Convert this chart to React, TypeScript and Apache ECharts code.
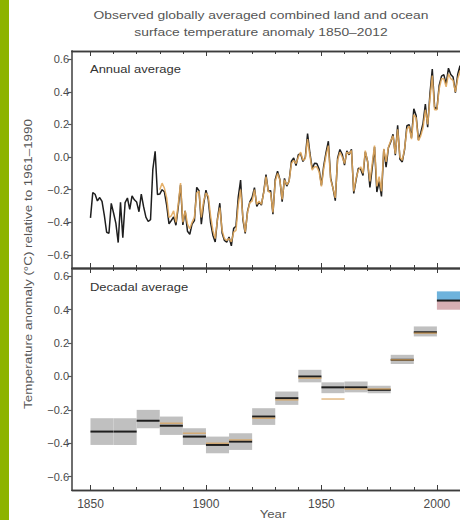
import { useEffect, useRef } from "react";
import * as echarts from "echarts";

// Annual global mean anomaly (°C, relative to 1961–1990), first record from 1850
const ANNUAL_START = 1850;
const annualBlack = [
  -0.373, -0.218, -0.228, -0.269, -0.248, -0.272, -0.358, -0.461, -0.467, -0.284,
  -0.343, -0.407, -0.524, -0.278, -0.494, -0.279, -0.251, -0.321, -0.238, -0.262,
  -0.276, -0.335, -0.227, -0.304, -0.368, -0.395, -0.384, -0.075, 0.035, -0.23,
  -0.227, -0.2, -0.213, -0.296, -0.409, -0.389, -0.367, -0.418, -0.307, -0.171,
  -0.416, -0.33, -0.455, -0.473, -0.41, -0.39, -0.186, -0.206, -0.412, -0.289,
  -0.203, -0.259, -0.402, -0.479, -0.52, -0.377, -0.283, -0.465, -0.511, -0.522,
  -0.49, -0.544, -0.437, -0.424, -0.244, -0.141, -0.383, -0.468, -0.333, -0.275,
  -0.247, -0.187, -0.302, -0.276, -0.294, -0.215, -0.108, -0.21, -0.206, -0.35,
  -0.137, -0.087, -0.137, -0.273, -0.131, -0.178, -0.147, -0.026, -0.006, -0.052,
  0.014, 0.02, -0.027, -0.004, 0.144, 0.025, -0.071, -0.038, -0.039, -0.074,
  -0.173, -0.052, 0.028, 0.097, -0.129, -0.19, -0.267, -0.007, 0.046, 0.017,
  -0.049, 0.038, 0.014, 0.048, -0.223, -0.14, -0.068, -0.074, -0.113, 0.032,
  -0.027, -0.186, -0.065, 0.062, -0.214, -0.149, -0.241, 0.047, -0.062, 0.057,
  0.092, 0.14, 0.011, 0.194, -0.014, -0.03, 0.045, 0.192, 0.198, 0.118,
  0.296, 0.254, 0.105, 0.148, 0.208, 0.325, 0.183, 0.39, 0.539, 0.306,
  0.294, 0.441, 0.496, 0.505, 0.447, 0.545, 0.506, 0.491, 0.395, 0.506,
  0.56, 0.425, 0.47,
];

// Second annual record, starting 1880
const ORANGE_START = 1880;
const annualOrange = [
  -0.2, -0.16, -0.19, -0.25, -0.37, -0.36, -0.33, -0.4, -0.29, -0.16,
  -0.4, -0.33, -0.41, -0.44, -0.4, -0.37, -0.22, -0.21, -0.37, -0.27,
  -0.22, -0.24, -0.36, -0.45, -0.5, -0.38, -0.31, -0.45, -0.5, -0.51,
  -0.5, -0.52, -0.46, -0.45, -0.29, -0.2, -0.37, -0.46, -0.34, -0.28,
  -0.27, -0.2, -0.29, -0.27, -0.29, -0.22, -0.12, -0.21, -0.22, -0.34,
  -0.15, -0.1, -0.14, -0.26, -0.14, -0.17, -0.15, -0.04, -0.02, -0.04,
  0.0, 0.03, -0.02, -0.01, 0.11, 0.01, -0.08, -0.06, -0.06, -0.09,
  -0.18, -0.07, 0.01, 0.07, -0.14, -0.19, -0.25, -0.02, 0.03, 0.0,
  -0.04, 0.03, 0.02, 0.04, -0.21, -0.13, -0.08, -0.06, -0.1, 0.04,
  -0.03, -0.15, -0.04, 0.07, -0.18, -0.12, -0.21, 0.05, -0.03, 0.06,
  0.1, 0.13, 0.02, 0.17, 0.0, -0.02, 0.05, 0.17, 0.19, 0.11,
  0.26, 0.24, 0.1, 0.13, 0.18, 0.29, 0.2, 0.36, 0.5, 0.29,
  0.29, 0.42, 0.48, 0.48, 0.43, 0.51, 0.48, 0.47, 0.4, 0.48,
  0.53, 0.42, 0.45,
];

// Decadal averages: start year, mean, uncertainty band
const decadeStart = [1850, 1860, 1870, 1880, 1890, 1900, 1910, 1920, 1930, 1940, 1950, 1960, 1970, 1980, 1990, 2000];
const decadeMean = [-0.33, -0.33, -0.265, -0.295, -0.36, -0.41, -0.39, -0.24, -0.13, 0.0, -0.065, -0.065, -0.08, 0.1, 0.265, 0.455];
const decadeLow = [-0.41, -0.41, -0.31, -0.35, -0.41, -0.46, -0.44, -0.29, -0.17, -0.035, -0.1, -0.095, -0.1, 0.075, 0.24, 0.4];
const decadeHigh = [-0.25, -0.25, -0.2, -0.24, -0.31, -0.36, -0.34, -0.19, -0.09, 0.04, -0.035, -0.03, -0.055, 0.13, 0.3, 0.51];
// Second record, decadal means (from 1880)
const decadeOrange = [null, null, null, -0.28, -0.34, -0.4, -0.38, -0.25, -0.14, -0.01, -0.135, -0.075, -0.075, 0.1, 0.26, null];

const yTicks = [-0.6, -0.4, -0.2, 0, 0.2, 0.4, 0.6];
const yearLabels = [1850, 1900, 1950, 2000];
const decadeTicks = [1850, 1860, 1870, 1880, 1890, 1900, 1910, 1920, 1930, 1940, 1950, 1960, 1970, 1980, 1990, 2000, 2010];

const X_MIN = 1842;
const X_MAX = 2010;
const Y_MIN = -0.68;
const Y_MAX = 0.65;
const FONT = "'Liberation Sans', Arial, sans-serif";
const FRAME = "#3c3c3c";
const TEXT = "#4a4a4a";

function xAxisFor(gridIndex: number, position: "top" | "bottom", ticks: number[], len: number, labels: boolean) {
  return {
    type: "value",
    gridIndex,
    position,
    min: X_MIN,
    max: X_MAX,
    axisLine: { show: true, onZero: false, lineStyle: { color: FRAME, width: 1.3 } },
    axisTick: { show: true, inside: true, length: len, customValues: ticks, lineStyle: { color: FRAME, width: 1 } },
    axisLabel: labels
      ? { show: true, customValues: yearLabels, fontSize: 12, color: TEXT, fontFamily: FONT, margin: 8, formatter: (v: number) => String(v) }
      : { show: false },
    splitLine: { show: false },
  };
}

function yAxisFor(gridIndex: number) {
  return {
    type: "value",
    gridIndex,
    min: Y_MIN,
    max: Y_MAX,
    axisLine: { show: true, onZero: false, lineStyle: { color: "#6e6e6e", width: 2 } },
    axisTick: { show: true, inside: false, length: 4, customValues: yTicks, lineStyle: { color: "#555", width: 1.2 } },
    axisLabel: {
      customValues: yTicks,
      fontSize: 11,
      color: TEXT,
      fontFamily: FONT,
      margin: 3,
      formatter: (v: number) => (Math.abs(v) < 1e-9 ? "0.0" : v.toFixed(1).replace("-", "\u2212")),
    },
    splitLine: { show: false },
  };
}

export default function App() {
  const ref = useRef<HTMLDivElement>(null);

  useEffect(() => {
    if (!ref.current) return;
    const chart = echarts.init(ref.current, undefined, { renderer: "svg" });

    const blackData = annualBlack.map((v, i) => [ANNUAL_START + i, v]);
    const orangeData = annualOrange.map((v, i) => [ORANGE_START + i, v]);
    const boxData = decadeStart.map((s, i) => [s, s + 10, decadeLow[i], decadeHigh[i], decadeMean[i]]);
    const orangeDecData = decadeStart
      .map((s, i) => (decadeOrange[i] == null ? null : [s, s + 10, decadeOrange[i]]))
      .filter((d) => d != null);
    const lastDecade = decadeStart.length - 1;

    chart.setOption({
      animation: false,
      backgroundColor: "#ffffff",
      grid: [
        { left: 72, top: 51, right: 0, height: 217 },
        { left: 72, top: 268, right: 0, height: 222 },
      ],
      xAxis: [
        xAxisFor(0, "bottom", decadeTicks, 3, false),
        xAxisFor(0, "top", decadeTicks, 3, false),
        xAxisFor(0, "bottom", yearLabels, 5, false),
        xAxisFor(0, "top", yearLabels, 5, false),
        xAxisFor(1, "bottom", decadeTicks, 3, false),
        xAxisFor(1, "top", decadeTicks, 3, false),
        xAxisFor(1, "bottom", yearLabels, 5, true),
        xAxisFor(1, "top", yearLabels, 5, false),
      ],
      yAxis: [yAxisFor(0), yAxisFor(1)],
      series: [
        {
          type: "line",
          name: "black-annual",
          xAxisIndex: 0,
          yAxisIndex: 0,
          data: blackData,
          showSymbol: false,
          lineStyle: { color: "#1e1e1e", width: 1.5 },
          z: 2,
        },
        {
          type: "line",
          name: "orange-annual",
          xAxisIndex: 0,
          yAxisIndex: 0,
          data: orangeData,
          showSymbol: false,
          lineStyle: { color: "#e2a85c", width: 1.5, opacity: 0.9 },
          z: 3,
        },
        {
          type: "custom",
          name: "decadal",
          xAxisIndex: 4,
          yAxisIndex: 1,
          data: boxData,
          encode: { x: [0, 1], y: [2, 3, 4] },
          renderItem: (params: any, api: any) => {
            const x0 = api.value(0);
            const x1 = api.value(1);
            const lo = api.value(2);
            const hi = api.value(3);
            const m = api.value(4);
            const pHi = api.coord([x0, hi]);
            const pLo = api.coord([x1, lo]);
            const pM0 = api.coord([x0, m]);
            const pM1 = api.coord([x1, m]);
            const w = pLo[0] - pHi[0];
            const children: any[] = [];
            if (params.dataIndex === lastDecade) {
              children.push({
                type: "rect",
                shape: { x: pHi[0], y: pHi[1], width: w, height: pM0[1] - pHi[1] },
                style: { fill: "#6fb3dc" },
              });
              children.push({
                type: "rect",
                shape: { x: pHi[0], y: pM0[1], width: w, height: pLo[1] - pM0[1] },
                style: { fill: "#d7aeb3" },
              });
            } else {
              children.push({
                type: "rect",
                shape: { x: pHi[0], y: pHi[1], width: w, height: pLo[1] - pHi[1] },
                style: { fill: "#c0c0c0" },
              });
            }
            children.push({
              type: "line",
              shape: { x1: pM0[0], y1: pM0[1], x2: pM1[0], y2: pM1[1] },
              style: { stroke: "#1e1e1e", lineWidth: 2 },
            });
            return { type: "group", children };
          },
          z: 2,
        },
        {
          type: "custom",
          name: "orange-decadal",
          xAxisIndex: 4,
          yAxisIndex: 1,
          data: orangeDecData,
          encode: { x: [0, 1], y: [2] },
          renderItem: (_params: any, api: any) => {
            const a = api.coord([api.value(0), api.value(2)]);
            const b = api.coord([api.value(1), api.value(2)]);
            return {
              type: "line",
              shape: { x1: a[0], y1: a[1], x2: b[0], y2: b[1] },
              style: { stroke: "#d9a45e", lineWidth: 1.5, opacity: 0.75 },
            };
          },
          z: 3,
        },
      ],
      graphic: [
        { type: "rect", left: 0, top: 0, shape: { width: 9, height: 520 }, style: { fill: "#8db300" } },
        {
          type: "text",
          x: 261,
          y: 15,
          scaleX: 1.26,
          style: { text: "Observed globally averaged combined land and ocean", fontSize: 11, fontFamily: FONT, fill: "#555", align: "center", verticalAlign: "middle" },
        },
        {
          type: "text",
          x: 261,
          y: 32,
          scaleX: 1.26,
          style: { text: "surface temperature anomaly 1850\u20132012", fontSize: 11, fontFamily: FONT, fill: "#555", align: "center", verticalAlign: "middle" },
        },
        {
          type: "text",
          x: 28,
          y: 264,
          rotation: Math.PI / 2,
          scaleX: 1.22,
          style: { text: "Temperature anomaly (\u00b0C) relative to 1961\u20131990", fontSize: 11, fontFamily: FONT, fill: "#555", align: "center", verticalAlign: "middle" },
        },
        {
          type: "text",
          x: 90,
          y: 70,
          scaleX: 1.3,
          style: { text: "Annual average", fontSize: 10, fontFamily: FONT, fill: "#333", align: "left", verticalAlign: "middle" },
        },
        {
          type: "text",
          x: 90,
          y: 288,
          scaleX: 1.3,
          style: { text: "Decadal average", fontSize: 10, fontFamily: FONT, fill: "#333", align: "left", verticalAlign: "middle" },
        },
        {
          type: "text",
          x: 273,
          y: 514,
          scaleX: 1.2,
          style: { text: "Year", fontSize: 11, fontFamily: FONT, fill: "#555", align: "center", verticalAlign: "middle" },
        },
      ],
    });

    return () => chart.dispose();
  }, []);

  return (
    <div
      ref={ref}
      style={{ position: "fixed", left: 0, top: 0, width: 460, height: 520, background: "#fff" }}
    />
  );
}
